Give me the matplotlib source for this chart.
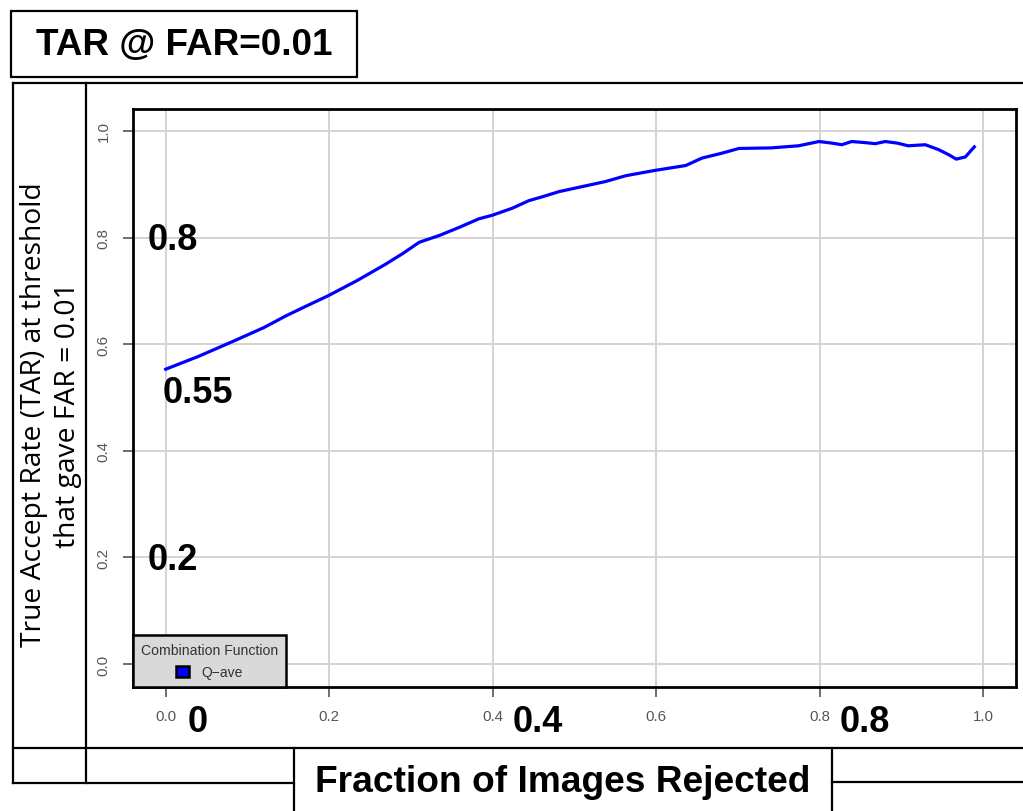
import matplotlib
matplotlib.use("Agg")
import matplotlib.pyplot as plt
from matplotlib.lines import Line2D
from matplotlib.patches import Patch, Rectangle

# Kurve
frac_rejected = [0.0, 0.04, 0.082, 0.12, 0.147, 0.17, 0.199, 0.235, 0.269, 0.29,
                 0.31, 0.335, 0.359, 0.383, 0.40, 0.424, 0.444, 0.462, 0.481, 0.505,
                 0.538, 0.563, 0.599, 0.636, 0.656, 0.68, 0.701, 0.74, 0.774, 0.799,
                 0.815, 0.827, 0.839, 0.855, 0.868, 0.880, 0.895, 0.908, 0.929, 0.945,
                 0.958, 0.967, 0.978, 0.989]
tar = [0.553, 0.577, 0.605, 0.631, 0.653, 0.670, 0.691, 0.720, 0.750, 0.770,
       0.791, 0.804, 0.819, 0.835, 0.842, 0.855, 0.869, 0.877, 0.886, 0.894,
       0.905, 0.916, 0.926, 0.935, 0.949, 0.958, 0.967, 0.968, 0.972, 0.980,
       0.977, 0.974, 0.980, 0.978, 0.976, 0.980, 0.977, 0.972, 0.974, 0.965,
       0.955, 0.947, 0.951, 0.970]

ticks = [0.0, 0.2, 0.4, 0.6, 0.8, 1.0]
tick_labels = ["0.0", "0.2", "0.4", "0.6", "0.8", "1.0"]

# grosse Beschriftungen im Plot
y_notes = ["0.8", "0.55", "0.2"]
y_note_pos = [(-0.022, 0.797), (-0.004, 0.51), (-0.022, 0.197)]
x_notes = ["0", "0.4", "0.8"]
x_note_pos = [0.039, 0.455, 0.855]

W, H = 1023, 812
fig = plt.figure(figsize=(W / 100, H / 100), dpi=100)


def px(x, y):
    return x / W, 1 - y / H


def hline(y, x0, x1):
    a, b = px(x0, y)
    c, _ = px(x1, y)
    fig.add_artist(Line2D([a, c], [b, b], color="black", lw=1.6))


def vline(x, y0, y1):
    a, b = px(x, y0)
    _, d = px(x, y1)
    fig.add_artist(Line2D([a, a], [b, d], color="black", lw=1.6))


# Rahmen
hline(84, 13, 1023)
hline(749, 13, 1023)
hline(784, 13, 294)
hline(783, 832, 1023)
vline(13, 84, 784)
vline(86, 84, 784)
vline(294, 749, 812)
vline(832, 749, 812)

# Titelbox
x0, y1 = px(11, 78)
x1, y0 = px(357, 12)
fig.add_artist(Rectangle((x0, y1), x1 - x0, y0 - y1, transform=fig.transFigure,
                         fill=False, edgecolor="black", lw=1.6))
fig.text(*px(184, 45), "TAR @ FAR=0.01", family="Liberation Sans", weight="bold",
         fontsize=26.6, ha="center", va="center")
fig.text(*px(563, 783), "Fraction of Images Rejected", family="Liberation Sans",
         weight="bold", fontsize=26.7, ha="center", va="center")
fig.text(*px(51, 415), "True Accept Rate (TAR) at threshold\nthat gave FAR = 0.01",
         family="Open Sans", fontsize=20.3, rotation=90, ha="center", va="center",
         linespacing=1.28)

ax = fig.add_axes([133 / W, 1 - 688 / H, (1016 - 133) / W, (688 - 110) / H])
ax.plot(frac_rejected, tar, color="#0000ff", lw=2.3, zorder=3)
ax.set_xlim(-0.04, 1.04)
ax.set_ylim(-0.043, 1.041)
ax.set_xticks(ticks)
ax.set_xticklabels(tick_labels)
ax.set_yticks(ticks)
ax.set_yticklabels(tick_labels, rotation=90, va="center")
ax.grid(True, color="#d3d3d3", lw=1.4)
ax.set_axisbelow(True)
for s in ax.spines.values():
    s.set_linewidth(2)
    s.set_color("black")
ax.tick_params(direction="out", length=7, width=1.2, color="#555555",
               labelcolor="#555555", labelsize=10.8, pad=9)
for lab in ax.get_xticklabels() + ax.get_yticklabels():
    lab.set_family("Liberation Sans")

for t, (x, y) in zip(y_notes, y_note_pos):
    ax.text(x, y, t, family="Liberation Sans", weight="bold", fontsize=26,
            ha="left", va="center", zorder=5)
for t, x in zip(x_notes, x_note_pos):
    ax.text(x, -0.107, t, family="Liberation Sans", weight="bold", fontsize=26,
            ha="center", va="center", clip_on=False)

handle = Patch(facecolor="#0000ff", edgecolor="black", lw=1.8)
leg = ax.legend([handle], ["Q\u2212ave"], title="Combination Function",
                loc="lower left", bbox_to_anchor=(0, 0), borderaxespad=0,
                fancybox=False, framealpha=1, facecolor="#d9d9d9",
                edgecolor="black", prop={"family": "Liberation Sans", "size": 10},
                handlelength=0.9, handleheight=0.9, handletextpad=0.9,
                borderpad=0.55, labelspacing=0.3, alignment="center")
leg.get_title().set_fontfamily("Liberation Sans")
leg.get_title().set_fontsize(10.1)
leg.get_title().set_color("#333333")
leg._legend_box.sep = 6
for t in leg.get_texts():
    t.set_color("#333333")
leg.get_frame().set_linewidth(1.8)

fig.savefig("out.png", dpi=100)
